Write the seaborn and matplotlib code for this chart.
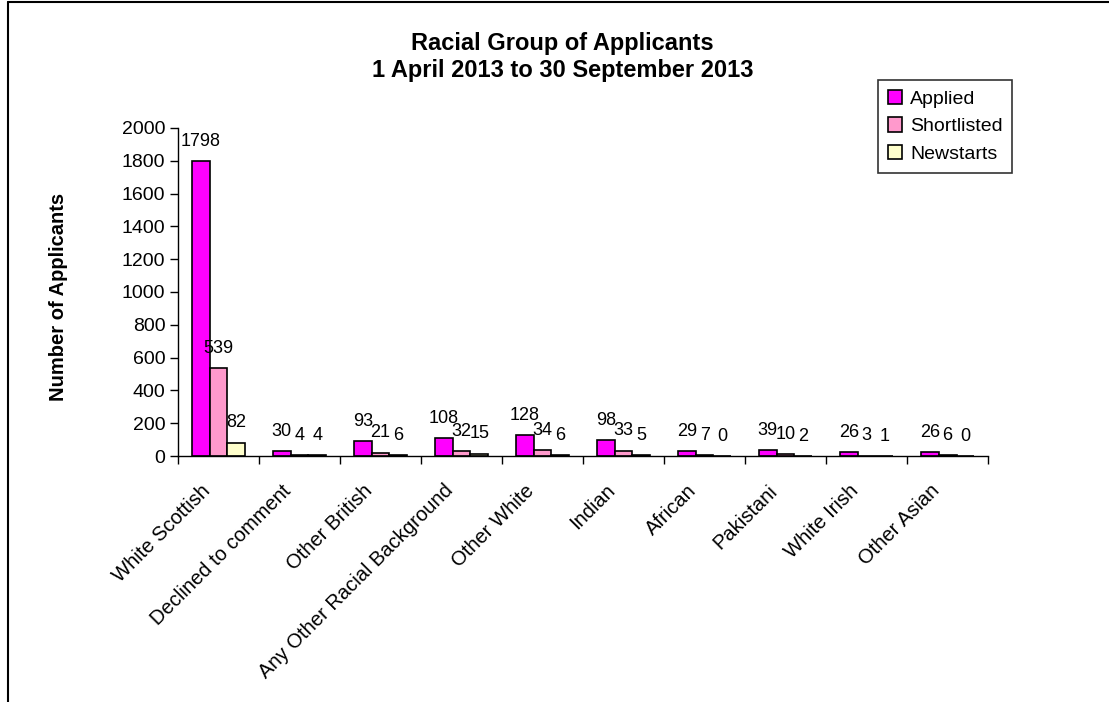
import matplotlib
matplotlib.use("Agg")
import matplotlib.pyplot as plt
import matplotlib.transforms as mtransforms
import seaborn as sns
import pandas as pd
from matplotlib.lines import Line2D

categories = ["White Scottish", "Declined to comment", "Other British",
              "Any Other Racial Background", "Other White", "Indian",
              "African", "Pakistani", "White Irish", "Other Asian"]
applied = [1798, 30, 93, 108, 128, 98, 29, 39, 26, 26]
shortlisted = [539, 4, 21, 32, 34, 33, 7, 10, 3, 6]
newstarts = [82, 4, 6, 15, 6, 5, 0, 2, 1, 0]
series = ["Applied", "Shortlisted", "Newstarts"]
colors = ["#FF00FF", "#FF99CC", "#FFFFCC"]

rows = []
for s, vals in zip(series, [applied, shortlisted, newstarts]):
    for c, v in zip(categories, vals):
        rows.append({"Category": c, "Series": s, "Value": v})
df = pd.DataFrame(rows)

sns.set_theme(style="white")
plt.rcParams["font.family"] = ["Liberation Sans", "DejaVu Sans"]
plt.rcParams["text.color"] = "black"
plt.rcParams["axes.labelcolor"] = "black"
plt.rcParams["xtick.color"] = "black"
plt.rcParams["ytick.color"] = "black"

fig = plt.figure(figsize=(11.09, 7.02), dpi=100)
ax = fig.add_axes([0.1605, 0.3504, 0.7305, 0.4673])

sns.barplot(data=df, x="Category", y="Value", hue="Series", order=categories,
            hue_order=series, palette=colors, width=0.66, edgecolor="black",
            linewidth=1.2, saturation=1, ax=ax, legend=False)

for cont in ax.containers:
    ax.bar_label(cont, fmt="%d", padding=8, fontsize=13, color="black")

ax.set_ylim(0, 2000)
ax.set_xlim(-0.5, len(categories) - 0.5)
ax.set_yticks(range(0, 2001, 200))
ax.tick_params(axis="y", labelsize=14, length=6, width=1, direction="out", left=True, pad=3)
ax.set_xticks(range(len(categories)))
ax.set_xticklabels(categories, rotation=45, ha="right", rotation_mode="anchor", fontsize=14.5)
ax.tick_params(axis="x", length=0, pad=18)
offset = mtransforms.ScaledTranslation(-18 / 100, 0, fig.dpi_scale_trans)
for lbl in ax.get_xticklabels():
    lbl.set_transform(lbl.get_transform() + offset)
# category separator ticks
ax.set_xticks([i - 0.5 for i in range(len(categories) + 1)], minor=True)
ax.tick_params(axis="x", which="minor", length=6, width=1, direction="out", bottom=True)
for sp in ["top", "right"]:
    ax.spines[sp].set_visible(False)
for sp in ["left", "bottom"]:
    ax.spines[sp].set_color("black")
    ax.spines[sp].set_linewidth(1)
ax.set_xlabel("")
ax.set_ylabel("Number of Applicants", fontsize=14.5, fontweight="bold")
ax.yaxis.set_label_coords(-0.136, 0.485)
ax.grid(False)

fig.text(0.507, 0.919, "Racial Group of Applicants\n1 April 2013 to 30 September 2013",
         ha="center", va="center", fontsize=17, fontweight="bold", linespacing=1.2)

handles = [plt.Rectangle((0, 0), 1, 1, facecolor=c, edgecolor="black", linewidth=1.2) for c in colors]
leg = fig.legend(handles, series, loc="upper left", bbox_to_anchor=(0.7917, 0.886),
                 frameon=True, fontsize=14, fancybox=False, edgecolor="black",
                 handlelength=0.75, handleheight=0.75, handletextpad=0.4,
                 labelspacing=0.5, borderpad=0.5, borderaxespad=0)
leg.get_frame().set_linewidth(1.2)

# outer chart border (top and left)
fig.add_artist(Line2D([0.0072, 1.0], [0.9965, 0.9965], color="black", lw=1.5, transform=fig.transFigure))
fig.add_artist(Line2D([0.0072, 0.0072], [0.0, 0.9965], color="black", lw=1.5, transform=fig.transFigure))

fig.savefig("out.png", dpi=100)
